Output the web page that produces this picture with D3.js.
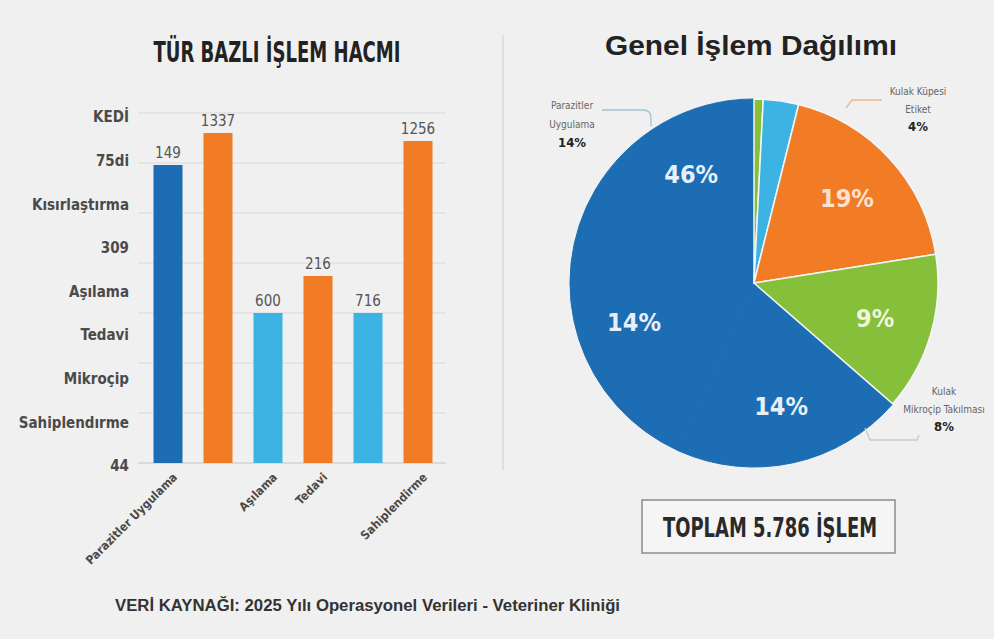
<!DOCTYPE html>
<html>
<head>
<meta charset="utf-8">
<script src="https://cdn.jsdelivr.net/npm/d3@7"></script>
<style>
body { margin: 0; background: #f0f0f0; }
svg { display: block; }
.cond { font-family: "Liberation Sans Narrow", "DejaVu Sans Condensed", "Roboto Condensed", Roboto, sans-serif; }
.sans { font-family: "Liberation Sans", Arial, "DejaVu Sans", sans-serif; }
</style>
</head>
<body>
<svg></svg>
<script>
// left chart: category axis labels (bottom to top) as printed
var yLabels = ["44", "Sahiplendırme", "Mikroçip", "Tedavi", "Aşılama", "309", "Kısırlaştırma", "75di", "KEDİ"];
var gridTicks = [0, 1, 2, 3, 4, 5, 6, 7];

var barKeys = ["b1", "b2", "b3", "b4", "b5", "b6"];
var barHeights = [5.96, 6.6, 3.0, 3.74, 3.0, 6.44];   // read in grid steps
var barLabels = ["149", "1337", "600", "216", "716", "1256"];
var barColors = ["#1c6db3", "#f27b26", "#3cb3e3", "#f27b26", "#3cb3e3", "#f27b26"];
var xLabels = ["Parazitler Uygulama", "", "Aşılama", "Tedavi", "", "Sahiplendirme"];

// right chart: slices clockwise from 12 o'clock (share of the circle, %)
var pieShares = [0.8, 3.1, 18.6, 13.9, 20.3, 26.7, 16.6];
var pieColors = ["#86bf3a", "#3cb3e3", "#f27b26", "#86bf3a", "#1c6db3", "#1c6db3", "#1c6db3"];
var pieLabels = ["", "", "19%", "9%", "14%", "14%", "46%"];
var pieLabelColors = ["#fff", "#fff", "#fde3cf", "#eef7de", "#e6effa", "#e6effa", "#e6effa"];

var width = 994, height = 639;

var svg = d3.select("svg")
    .attr("width", width)
    .attr("height", height);

svg.append("rect")
    .attr("width", width)
    .attr("height", height)
    .attr("fill", "#f0f0f0");

// ---------- left: bar chart ----------
var y = d3.scaleLinear().domain([0, 7]).range([463, 113]);
var yCat = d3.scalePoint().domain(yLabels).range([466, 117]);
var x = d3.scaleBand().domain(barKeys).range([143, 443])
    .paddingInner(0.42).paddingOuter(0.21);

svg.append("text")
    .attr("class", "cond")
    .attr("x", 277).attr("y", 62)
    .attr("text-anchor", "middle")
    .attr("font-size", 28).attr("font-weight", "bold")
    .attr("fill", "#222")
    .attr("textLength", 247).attr("lengthAdjust", "spacingAndGlyphs")
    .text("TÜR BAZLI İŞLEM HACMI");

svg.append("g")
    .selectAll("line")
    .data(gridTicks)
    .enter()
    .append("line")
    .attr("x1", 138).attr("x2", 446)
    .attr("y1", function (d) { return y(d); })
    .attr("y2", function (d) { return y(d); })
    .attr("stroke", function (d) { return d === 0 ? "#c4c4c4" : "#d9d9d9"; })
    .attr("stroke-width", 1);

var yAxis = svg.append("g")
    .attr("class", "cond")
    .attr("transform", "translate(129,0)")
    .call(d3.axisLeft(yCat).tickSize(0).tickPadding(0));
yAxis.select(".domain").remove();
yAxis.attr("font-family", null);
yAxis.selectAll("text")
    .attr("font-size", 15)
    .attr("font-weight", "bold")
    .attr("fill", "#4a4a4a");

svg.append("g")
    .selectAll("rect")
    .data(barKeys)
    .enter()
    .append("rect")
    .attr("x", function (d) { return x(d); })
    .attr("width", x.bandwidth())
    .attr("y", function (d, i) { return y(barHeights[i]); })
    .attr("height", function (d, i) { return y(0) - y(barHeights[i]); })
    .attr("fill", function (d, i) { return barColors[i]; });

svg.append("g")
    .selectAll("text")
    .data(barKeys)
    .enter()
    .append("text")
    .attr("class", "cond")
    .attr("x", function (d) { return x(d) + x.bandwidth() / 2; })
    .attr("y", function (d, i) { return y(barHeights[i]) - 7; })
    .attr("text-anchor", "middle")
    .attr("font-size", 15)
    .attr("fill", "#555")
    .text(function (d, i) { return barLabels[i]; });

svg.append("g")
    .selectAll("text")
    .data(barKeys)
    .enter()
    .append("text")
    .attr("class", "cond")
    .attr("transform", function (d) {
        return "translate(" + (x(d) + x.bandwidth() / 2 + 10) + ",478) rotate(-45)";
    })
    .attr("text-anchor", "end")
    .attr("font-size", 12)
    .attr("font-weight", "bold")
    .attr("fill", "#4a4a4a")
    .text(function (d, i) { return xLabels[i]; });

// divider
svg.append("line")
    .attr("x1", 503).attr("x2", 503)
    .attr("y1", 35).attr("y2", 470)
    .attr("stroke", "#cfcfcf").attr("stroke-width", 1);

// ---------- right: pie ----------
var cx = 754, cy = 283, r = 184;

svg.append("text")
    .attr("class", "sans")
    .attr("x", 751).attr("y", 55)
    .attr("text-anchor", "middle")
    .attr("font-size", 28).attr("font-weight", "bold")
    .attr("fill", "#222")
    .attr("textLength", 292).attr("lengthAdjust", "spacingAndGlyphs")
    .text("Genel İşlem Dağılımı");

var pie = d3.pie().sort(null).value(function (d) { return d; });
var arcs = pie(pieShares);
arcs.forEach(function (a, i) { a.i = i; });

var arc = d3.arc().innerRadius(0).outerRadius(r);
var labelArc = d3.arc().innerRadius(126).outerRadius(126);

var pg = svg.append("g").attr("transform", "translate(" + cx + "," + cy + ")");

var isBlue = function (a) { return pieColors[a.i] === "#1c6db3"; };
var drawOrder = arcs.filter(isBlue).concat(arcs.filter(function (a) { return !isBlue(a); }));

pg.selectAll("path")
    .data(drawOrder)
    .enter()
    .append("path")
    .attr("d", arc)
    .attr("fill", function (d) { return pieColors[d.i]; })
    .attr("stroke", function (d) { return isBlue(d) ? pieColors[d.i] : "#f4f7fa"; })
    .attr("stroke-width", function (d) { return isBlue(d) ? 1 : 1.5; })
    .attr("stroke-linejoin", "round");

pg.selectAll("text.pct")
    .data(arcs)
    .enter()
    .append("text")
    .attr("class", "pct cond")
    .attr("transform", function (d) { return "translate(" + labelArc.centroid(d) + ")"; })
    .attr("text-anchor", "middle")
    .attr("dy", "0.36em")
    .attr("font-size", 25)
    .attr("font-weight", "bold")
    .attr("fill", function (d) { return pieLabelColors[d.i]; })
    .text(function (d) { return pieLabels[d.i]; });

// callouts
function callout(lines, px, py, lineH) {
    var t = svg.append("text")
        .attr("class", "cond")
        .attr("text-anchor", "middle");
    lines.forEach(function (l, i) {
        t.append("tspan")
            .attr("x", px)
            .attr("y", py + i * lineH)
            .attr("font-size", l.bold ? 13 : 10)
            .attr("font-weight", l.bold ? "bold" : "normal")
            .attr("fill", l.bold ? "#222" : "#666")
            .text(l.t);
    });
}

svg.append("path")
    .attr("d", "M602,110 L643,110 Q651,110 651,118 L651,126")
    .attr("fill", "none").attr("stroke", "#9fc3d4").attr("stroke-width", 1.3);
callout([{ t: "Parazitler" }, { t: "Uygulama" }, { t: "14%", bold: true }], 572, 109, 19);

svg.append("path")
    .attr("d", "M846,108 L852,100 L882,100")
    .attr("fill", "none").attr("stroke", "#ebb893").attr("stroke-width", 1.3);
callout([{ t: "Kulak Küpesi" }, { t: "Etiket" }, { t: "4%", bold: true }], 918, 95, 18);

svg.append("path")
    .attr("d", "M865,428 L870,440 L917,440 L919,435")
    .attr("fill", "none").attr("stroke", "#c9c9c9").attr("stroke-width", 1.3);
callout([{ t: "Kulak" }, { t: "Mikroçip Takılması" }, { t: "8%", bold: true }], 944, 395, 18);

// total box
svg.append("rect")
    .attr("x", 642).attr("y", 500)
    .attr("width", 253).attr("height", 53)
    .attr("fill", "#f5f5f5")
    .attr("stroke", "#8c8c8c").attr("stroke-width", 1.5);

svg.append("text")
    .attr("class", "cond")
    .attr("x", 770).attr("y", 537)
    .attr("text-anchor", "middle")
    .attr("font-size", 26).attr("font-weight", "bold")
    .attr("fill", "#2a2a2a")
    .attr("textLength", 214).attr("lengthAdjust", "spacingAndGlyphs")
    .text("TOPLAM 5.786 İŞLEM");

// footer
svg.append("text")
    .attr("class", "sans")
    .attr("x", 115).attr("y", 611)
    .attr("font-size", 16).attr("font-weight", "bold")
    .attr("fill", "#333")
    .attr("textLength", 505).attr("lengthAdjust", "spacingAndGlyphs")
    .text("VERİ KAYNAĞI: 2025 Yılı Operasyonel Verileri - Veteriner Kliniği");
</script>
</body>
</html>
